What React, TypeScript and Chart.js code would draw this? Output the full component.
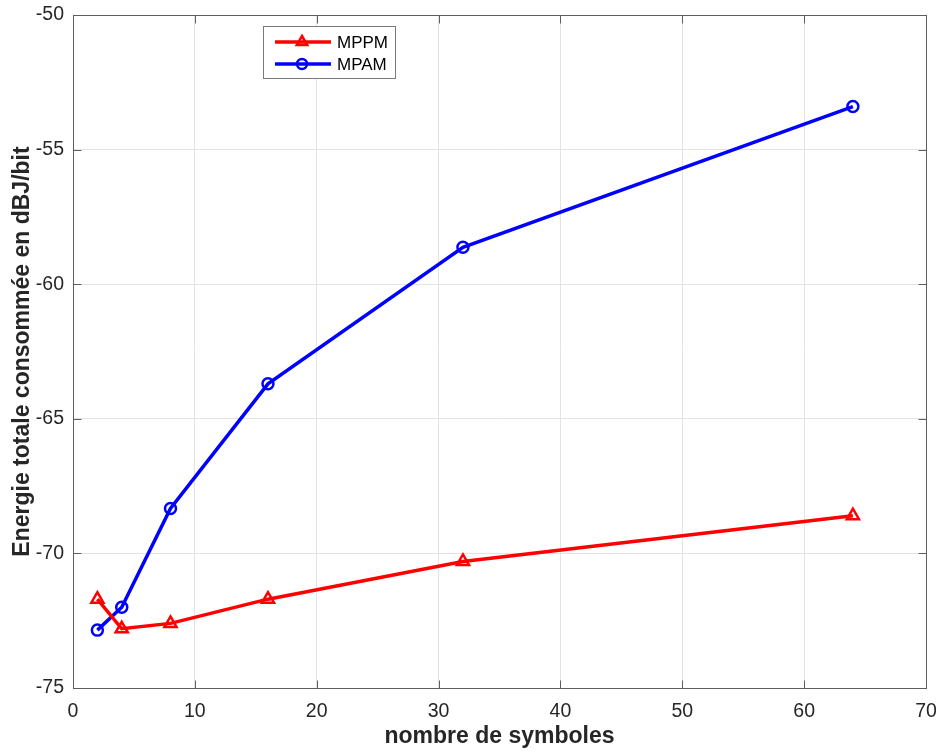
import React, { useEffect, useRef } from "react";
import { Chart, registerables } from "chart.js";

Chart.register(...registerables);

const symbols = [2, 4, 8, 16, 32, 64];
const mppm = [-71.7, -72.8, -72.6, -71.7, -70.3, -68.6];
const mpam = [-72.85, -72.0, -68.33, -63.7, -58.63, -53.4];
const seriesLabels = ["MPPM", "MPAM"];
const xTicks = [0, 10, 20, 30, 40, 50, 60, 70];
const yTicks = [-75, -70, -65, -60, -55, -50];
const xTitle = "nombre de symboles";
const yTitle = "Energie totale consommée en dBJ/bit";

const FONT = "'Liberation Sans', Arial, Helvetica, sans-serif";
const AXIS_COLOR = "#5e5e5e";
const TEXT_COLOR = "#262626";

function drawMarker(ctx: CanvasRenderingContext2D, style: string, x: number, y: number, r: number, color: string) {
  ctx.save();
  ctx.strokeStyle = color;
  ctx.lineWidth = 2.5;
  ctx.beginPath();
  if (style === "triangle") {
    ctx.moveTo(x, y - r);
    ctx.lineTo(x + r * 0.87, y + r * 0.5);
    ctx.lineTo(x - r * 0.87, y + r * 0.5);
    ctx.closePath();
  } else {
    ctx.arc(x, y, r, 0, Math.PI * 2);
  }
  ctx.stroke();
  ctx.restore();
}

const boxPlugin = {
  id: "matlabBox",
  afterDraw(chart: any) {
    const { ctx, chartArea: a, scales } = chart;
    const L = Math.round(a.left) + 0.5;
    const R = Math.round(a.right) + 0.5;
    const T = Math.round(a.top) + 0.5;
    const B = Math.round(a.bottom) + 0.5;
    ctx.save();
    ctx.strokeStyle = AXIS_COLOR;
    ctx.lineWidth = 1;
    ctx.strokeRect(L, T, R - L, B - T);
    const tl = 8;
    ctx.beginPath();
    xTicks.forEach((v) => {
      const x = Math.round(scales.x.getPixelForValue(v)) + 0.5;
      ctx.moveTo(x, B);
      ctx.lineTo(x, B - tl);
      ctx.moveTo(x, T);
      ctx.lineTo(x, T + tl);
    });
    yTicks.forEach((v) => {
      const y = Math.round(scales.y.getPixelForValue(v)) + 0.5;
      ctx.moveTo(L, y);
      ctx.lineTo(L + tl, y);
      ctx.moveTo(R, y);
      ctx.lineTo(R - tl, y);
    });
    ctx.stroke();

    // legend
    const lx = 263.5, ly = 26.5, lw = 132, lh = 52;
    ctx.fillStyle = "#ffffff";
    ctx.fillRect(lx, ly, lw, lh);
    ctx.strokeStyle = "#7a7a7a";
    ctx.strokeRect(lx, ly, lw, lh);
    const entries = [
      { label: seriesLabels[0], color: "#ff0000", style: "triangle", y: 42 },
      { label: seriesLabels[1], color: "#0000ff", style: "circle", y: 64 },
    ];
    entries.forEach((e) => {
      ctx.strokeStyle = e.color;
      ctx.lineWidth = 3.5;
      ctx.beginPath();
      ctx.moveTo(275, e.y);
      ctx.lineTo(331, e.y);
      ctx.stroke();
      drawMarker(ctx, e.style, 302, e.y, e.style === "triangle" ? 6 : 5, e.color);
      ctx.fillStyle = "#000000";
      ctx.font = `17px ${FONT}`;
      ctx.textBaseline = "middle";
      ctx.textAlign = "left";
      ctx.fillText(e.label, 337, e.y + 1);
    });
    ctx.restore();
  },
};

export default function App() {
  const ref = useRef<HTMLCanvasElement | null>(null);
  useEffect(() => {
    if (!ref.current) return;
    const chart = new Chart(ref.current, {
      type: "line",
      data: {
        datasets: [
          {
            label: seriesLabels[0],
            data: symbols.map((x, i) => ({ x, y: mppm[i] })),
            borderColor: "#ff0000",
            backgroundColor: "rgba(0,0,0,0)",
            borderWidth: 3.5,
            pointStyle: "triangle",
            pointRadius: 7,
            pointBorderWidth: 2.5,
            pointBackgroundColor: "rgba(0,0,0,0)",
            pointBorderColor: "#ff0000",
          },
          {
            label: seriesLabels[1],
            data: symbols.map((x, i) => ({ x, y: mpam[i] })),
            borderColor: "#0000ff",
            backgroundColor: "rgba(0,0,0,0)",
            borderWidth: 3.5,
            pointStyle: "circle",
            pointRadius: 5.5,
            pointBorderWidth: 2.5,
            pointBackgroundColor: "rgba(0,0,0,0)",
            pointBorderColor: "#0000ff",
          },
        ],
      },
      options: {
        animation: false,
        responsive: true,
        maintainAspectRatio: false,
        layout: { padding: { top: 15, right: 13, left: 0, bottom: 0 } },
        plugins: { legend: { display: false }, tooltip: { enabled: false } },
        scales: {
          x: {
            type: "linear",
            min: 0,
            max: 70,
            afterBuildTicks: (s: any) => {
              s.ticks = xTicks.map((v) => ({ value: v }));
            },
            afterFit: (s: any) => {
              s.height = 67;
              s.paddingLeft = 0;
              s.paddingRight = 0;
            },
            grid: { color: "#e3e3e3", drawTicks: false },
            border: { display: false },
            ticks: {
              autoSkip: false,
              maxRotation: 0,
              padding: 12,
              color: TEXT_COLOR,
              font: { family: FONT, size: 19.5 },
            },
            title: {
              display: true,
              text: xTitle,
              color: TEXT_COLOR,
              font: { family: FONT, size: 23, weight: "bold" },
              padding: { top: 0, bottom: 5 },
            },
          },
          y: {
            type: "linear",
            min: -75,
            max: -50,
            afterBuildTicks: (s: any) => {
              s.ticks = yTicks.map((v) => ({ value: v }));
            },
            afterFit: (s: any) => {
              s.width = 73;
              s.paddingTop = 0;
              s.paddingBottom = 0;
            },
            grid: { color: "#e3e3e3", drawTicks: false },
            border: { display: false },
            ticks: {
              autoSkip: false,
              padding: 9,
              color: TEXT_COLOR,
              font: { family: FONT, size: 19.5 },
            },
            title: {
              display: true,
              text: yTitle,
              color: TEXT_COLOR,
              font: { family: FONT, size: 23, weight: "bold" },
              padding: { top: 9, bottom: 0 },
            },
          },
        },
      },
      plugins: [boxPlugin],
    } as any);
    return () => chart.destroy();
  }, []);
  return (
    <div style={{ position: "absolute", left: 0, top: 0, width: 939, height: 755, background: "#fff" }}>
      <canvas ref={ref} />
    </div>
  );
}
